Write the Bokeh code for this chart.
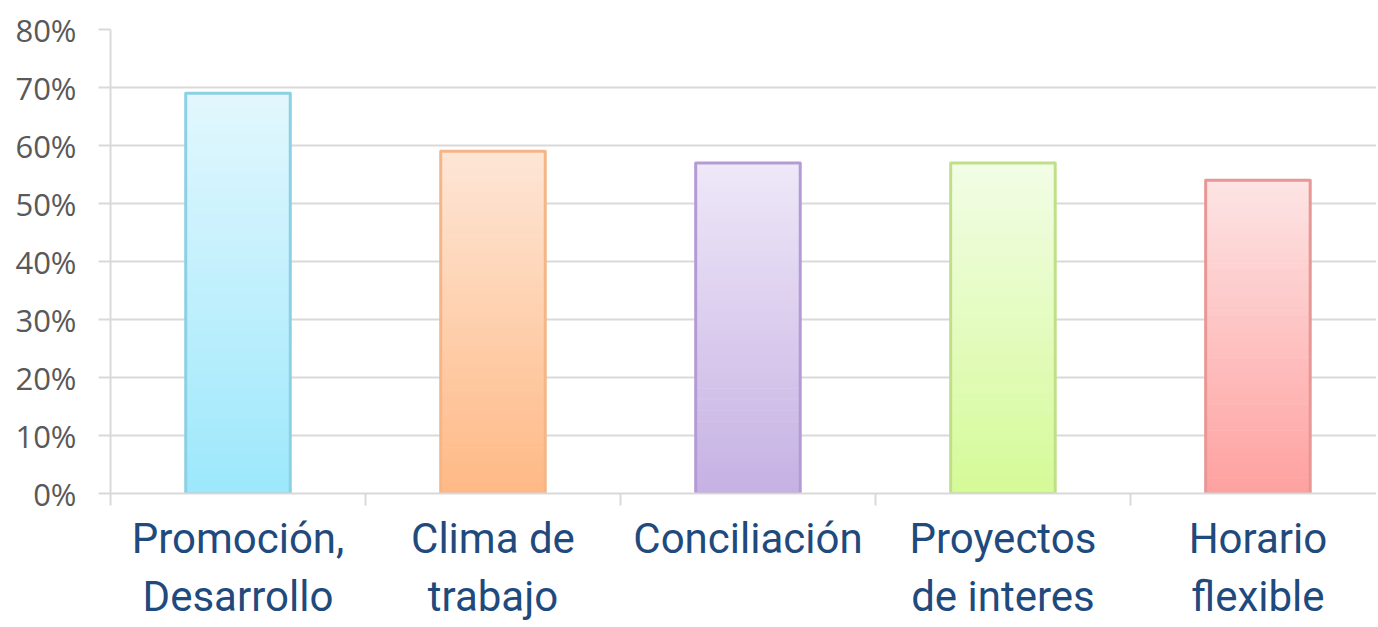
from bokeh.plotting import figure
from bokeh.models import Range1d, FixedTicker, NumeralTickFormatter, ColumnDataSource
from bokeh.embed import file_html
from bokeh.resources import INLINE

# ---- data ----
categories = ["Promoción,\nDesarrollo", "Clima de\ntrabajo", "Conciliación",
              "Proyectos\nde interes", "Horario\nflexible"]
values = [0.69, 0.59, 0.57, 0.57, 0.54]
y_ticks = [0, 0.1, 0.2, 0.3, 0.4, 0.5, 0.6, 0.7, 0.8]

# ---- style ----
top_colors = ["#e3f7fd", "#fde6d6", "#eee8f8", "#f2fde6", "#fde4e4"]
bottom_colors = ["#9ce8fc", "#ffb985", "#c6b1e3", "#d5fa97", "#fea1a0"]
border_colors = ["#8bd0e3", "#f5b585", "#b49bd4", "#bfe088", "#e69796"]
BAR_W = 0.41
N_SEG = 60


def hex2rgb(h):
    h = h.lstrip("#")
    return [int(h[i:i + 2], 16) for i in (0, 2, 4)]


def mix(c1, c2, t):
    a, b = hex2rgb(c1), hex2rgb(c2)
    return "#%02x%02x%02x" % tuple(round(a[i] + (b[i] - a[i]) * t) for i in range(3))


xs = [i + 0.5 for i in range(len(categories))]

p = figure(width=1376, height=625, output_backend="svg", toolbar_location=None,
           x_range=Range1d(0, 4.965), y_range=Range1d(0, 0.8),
           min_border_left=110, min_border_top=29, min_border_right=0,
           min_border_bottom=132)
p.outline_line_color = None
p.background_fill_color = "white"

# gradient bars: stacked thin slices of each bar
seg = dict(x=[], bottom=[], top=[], color=[])
for xi, v, ct, cb in zip(xs, values, top_colors, bottom_colors):
    for k in range(N_SEG):
        seg["x"].append(xi)
        seg["bottom"].append(v * k / N_SEG)
        seg["top"].append(v * (k + 1) / N_SEG + v * 0.002)
        seg["color"].append(mix(cb, ct, (k + 0.5) / N_SEG))
p.vbar(x="x", bottom="bottom", top="top", width=BAR_W, source=ColumnDataSource(seg),
       fill_color="color", line_color=None)
p.vbar(x=xs, top=values, bottom=0, width=BAR_W, fill_color=None,
       line_color=border_colors, line_width=3, line_join="round")

# y axis
ya = p.yaxis[0]
ya.ticker = FixedTicker(ticks=y_ticks)
ya.formatter = NumeralTickFormatter(format="0%")
ya.major_label_text_font = "Open Sans"
ya.major_label_text_font_size = "31px"
ya.major_label_text_color = "#595959"
ya.major_label_text_font_style = "normal"
ya.axis_line_color = "#d9d9d9"
ya.axis_line_width = 2
ya.major_tick_line_color = "#d9d9d9"
ya.major_tick_line_width = 2
ya.major_tick_out = 12
ya.major_tick_in = 0
ya.minor_tick_line_color = None
ya.major_label_standoff = 22

# x axis
xa = p.xaxis[0]
xa.ticker = FixedTicker(ticks=xs, minor_ticks=[0, 1, 2, 3, 4])
xa.major_label_overrides = {x: c for x, c in zip(xs, categories)}
xa.major_label_text_font = "Roboto"
xa.major_label_text_font_size = "42px"
xa.major_label_text_color = "#1f4a7d"
xa.major_label_text_line_height = 1.2
xa.axis_line_color = "#d9d9d9"
xa.axis_line_width = 2
xa.major_tick_line_color = None
xa.major_tick_out = 0
xa.major_tick_in = 0
xa.minor_tick_line_color = "#d9d9d9"
xa.minor_tick_line_width = 2
xa.minor_tick_out = 12
xa.minor_tick_in = 0
xa.major_label_standoff = 8

p.xgrid.grid_line_color = None
p.ygrid.ticker = FixedTicker(ticks=y_ticks)
p.ygrid.grid_line_color = "#d9d9d9"
p.ygrid.grid_line_width = 2
p.ygrid.level = "underlay"

open("out.html", "w").write(file_html(p, INLINE))
